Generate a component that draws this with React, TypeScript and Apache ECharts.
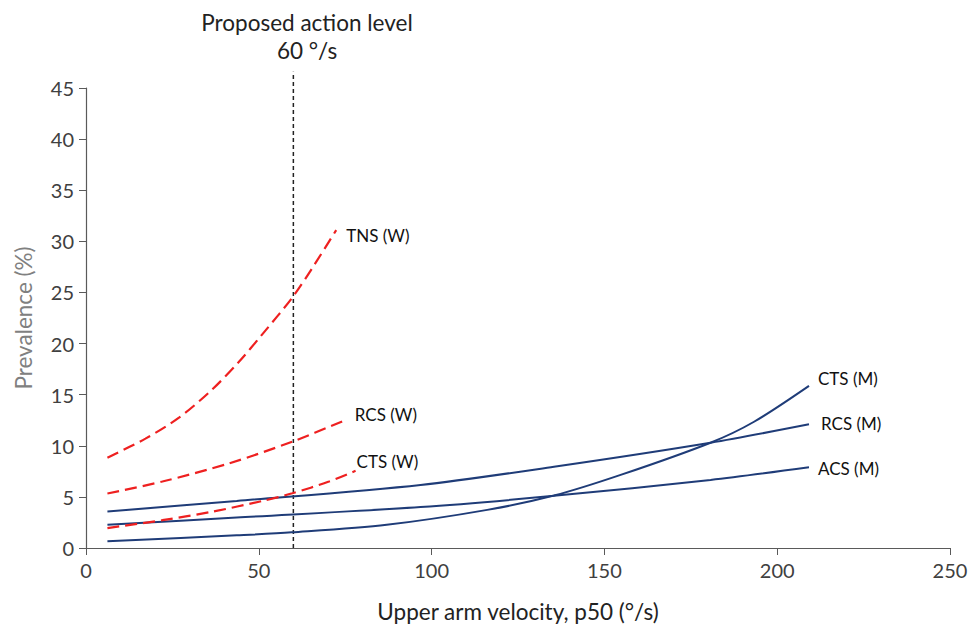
import React, { useEffect, useRef } from "react";
import * as echarts from "echarts";

// Women (dashed red)
const tnsWX = [6.2, 17.2, 26.9, 36.5, 44.2, 51, 59.7, 65.5, 72.4];
const tnsWY = [8.84, 10.7, 12.75, 15.5, 18.2, 20.9, 24.5, 27.4, 31.1];
const rcsWX = [6.2, 22.1, 41.4, 59.7, 74.6];
const rcsWY = [5.33, 6.5, 8.28, 10.4, 12.45];
const ctsWX = [6.2, 22.1, 36.5, 51, 59.7, 70.3, 78];
const ctsWY = [1.95, 2.72, 3.55, 4.6, 5.35, 6.5, 7.55];

// Men (solid navy)
const ctsMX = [6.2, 43.6, 59.5, 87, 116.1, 135.4, 154.7, 180.7, 193.3, 209.2];
const ctsMY = [0.65, 1.24, 1.53, 2.27, 3.73, 5.13, 7.15, 10.3, 12.35, 15.86];
const rcsMX = [6.2, 43.6, 96.8, 135.4, 180.7, 209.2];
const rcsMY = [3.57, 4.6, 6.17, 7.95, 10.3, 12.1];
const acsMX = [6.2, 43.6, 96.8, 135.4, 180.7, 209.2];
const acsMY = [2.27, 2.98, 4.0, 5.1, 6.66, 7.9];

const actionLevel = 60;
const actionLineY = [0, 46.6];

const xTicks = { min: 0, max: 250, interval: 50 };
const yTicks = { min: 0, max: 45, interval: 5 };

const FONT = "Lato, 'Open Sans', sans-serif";

const zip = (xs: number[], ys: number[]) => xs.map((x, i) => [x, ys[i]]);

export default function App() {
  const ref = useRef<HTMLDivElement>(null);
  useEffect(() => {
    if (!ref.current) return;
    const chart = echarts.init(ref.current, undefined, { renderer: "svg" });
    const RED = "#EE2020";
    const BLUE = "#1F3C78";
    const mk = (
      name: string,
      xs: number[],
      ys: number[],
      women: boolean,
      offset: [number, number]
    ) => ({
      name,
      type: "line",
      data: zip(xs, ys),
      smooth: 0.3,
      showSymbol: false,
      symbol: "none",
      lineStyle: {
        color: women ? RED : BLUE,
        width: women ? 2.2 : 2,
        type: women ? [12, 6] : "solid",
      },
      endLabel: {
        show: true,
        formatter: name,
        distance: 0,
        offset,
        color: "#111",
        fontSize: 17,
        fontFamily: FONT,
      },
      z: women ? 3 : 2,
    });
    chart.setOption({
      animation: false,
      grid: { left: 86, right: 21, top: 88, bottom: 79 },
      xAxis: {
        type: "value",
        ...xTicks,
        name: "Upper arm velocity, p50 (°/s)",
        nameLocation: "middle",
        nameGap: 52,
        nameTextStyle: { fontSize: 22.5, color: "#222", fontFamily: FONT },
        axisLine: { show: true, lineStyle: { color: "#5a5a5a", width: 1.2 } },
        axisTick: { show: true, length: 7, lineStyle: { color: "#5a5a5a" } },
        axisLabel: { fontSize: 20, color: "#404040", margin: 12, fontFamily: FONT },
        splitLine: { show: false },
      },
      yAxis: {
        type: "value",
        ...yTicks,
        name: "Prevalence (%)",
        nameLocation: "middle",
        nameGap: 51,
        nameTextStyle: { fontSize: 22.5, color: "#808080", fontFamily: FONT },
        axisLine: { show: true, lineStyle: { color: "#5a5a5a", width: 1.2 } },
        axisTick: { show: true, length: 7, lineStyle: { color: "#5a5a5a" } },
        axisLabel: { fontSize: 20, color: "#404040", margin: 12, fontFamily: FONT },
        splitLine: { show: false },
      },
      graphic: [
        {
          type: "text",
          x: 307,
          y: 22,
          style: {
            text: "Proposed action level",
            textAlign: "center",
            textVerticalAlign: "middle",
            fontSize: 22.5,
            fontFamily: FONT,
            fill: "#222",
          },
        },
        {
          type: "text",
          x: 307,
          y: 50,
          style: {
            text: "60 °/s",
            textAlign: "center",
            textVerticalAlign: "middle",
            fontSize: 22.5,
            fontFamily: FONT,
            fill: "#222",
          },
        },
      ],
      series: [
        {
          name: "action",
          type: "line",
          data: actionLineY.map((y) => [actionLevel, y]),
          clip: false,
          showSymbol: false,
          symbol: "none",
          lineStyle: { color: "#222", width: 1.5, type: [4, 3] },
          z: 1,
        },
        mk("TNS (W)", tnsWX, tnsWY, true, [10, 5]),
        mk("RCS (W)", rcsWX, rcsWY, true, [11, -6]),
        mk("CTS (W)", ctsWX, ctsWY, true, [1, -9]),
        mk("CTS (M)", ctsMX, ctsMY, false, [9, -7]),
        mk("RCS (M)", rcsMX, rcsMY, false, [12, -1]),
        mk("ACS (M)", acsMX, acsMY, false, [9, 1]),
      ],
    });
    return () => chart.dispose();
  }, []);
  return (
    <div
      ref={ref}
      style={{ position: "fixed", left: 0, top: 0, width: 971, height: 628, background: "#fff" }}
    />
  );
}
